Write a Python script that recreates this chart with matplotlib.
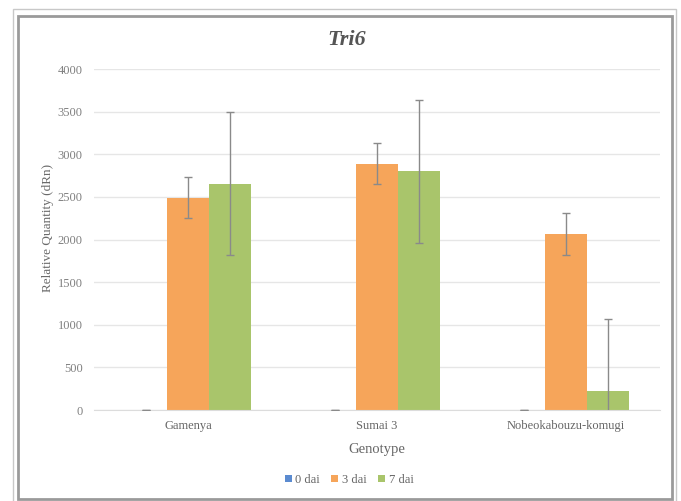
import numpy as np
import matplotlib.pyplot as plt
from matplotlib.patches import Rectangle

genotypes = ["Gamenya", "Sumai 3", "Nobeokabouzu-komugi"]
series = ["0 dai", "3 dai", "7 dai"]
dai0 = [0, 0, 0]
dai3 = [2490, 2890, 2065]
dai7 = [2655, 2800, 222]
err0 = [0, 0, 0]
err3 = [240, 242, 242]
err7 = [840, 840, 842]
yticks = [0, 500, 1000, 1500, 2000, 2500, 3000, 3500, 4000]

colors = ["#5b8bd0", "#f6a55a", "#a9c56b"]
serif = ["Liberation Serif", "DejaVu Serif"]

fig = plt.figure(figsize=(6.81, 5.01), dpi=100)
ax = fig.add_axes([0.138, 0.1816, 0.831, 0.6804])

# frames around the picture
fig.patches.append(Rectangle((13 / 681, 1 - 600 / 501), 663 / 681, 591 / 501,
                             transform=fig.transFigure, fill=False,
                             edgecolor="#c8c8c8", lw=1))
fig.patches.append(Rectangle((18 / 681, 1 - 499 / 501), 654 / 681, 483 / 501,
                             transform=fig.transFigure, fill=False,
                             edgecolor="#9a9a9a", lw=2))

x = np.arange(len(genotypes))
w = 0.2225
vals = [dai0, dai3, dai7]
errs = [err0, err3, err7]
for i in range(3):
    pos = x + (i - 1) * w
    ax.bar(pos, vals[i], width=w, color=colors[i], label=series[i], zorder=2)
    ax.errorbar(pos, vals[i], yerr=errs[i], fmt="none", ecolor="#8a8a8a",
                elinewidth=1, capsize=3, capthick=1, zorder=3)

ax.set_xlim(-0.5, 2.5)
ax.set_ylim(0, 4000)
ax.set_yticks(yticks)
ax.set_xticks(x)
ax.set_xticklabels(genotypes, family=serif, fontsize=9, color="#666666")
for lab in ax.get_yticklabels():
    lab.set_family(serif)
    lab.set_fontsize(9)
    lab.set_color("#808080")
ax.tick_params(length=0, pad=8)
ax.tick_params(axis="x", pad=7)
ax.grid(axis="y", color="#e6e6e6", lw=1, zorder=0)
for s in ["top", "right", "left"]:
    ax.spines[s].set_visible(False)
ax.spines["bottom"].set_color("#dcdcdc")

fig.text(347 / 681, 1 - 40 / 501, "Tri6", family=serif, fontsize=16,
         fontweight="bold", style="italic", color="#555555",
         ha="center", va="center")
ax.set_ylabel("Relative Quantity (dRn)", family=serif, fontsize=9.5,
              color="#6a6a6a")
ax.yaxis.set_label_coords(-0.07, 0.534)
ax.set_xlabel("Genotype", family=serif, fontsize=10.5, color="#666666")
ax.xaxis.set_label_coords(0.5, -0.097)

leg = ax.legend(loc="center", bbox_to_anchor=(0.451, -0.205), ncol=3,
                frameon=False, handlelength=0.55, handleheight=0.55,
                handletextpad=0.3, columnspacing=0.9,
                prop={"family": serif, "size": 9})
for t in leg.get_texts():
    t.set_color("#666666")

fig.savefig("out.png", dpi=100)
